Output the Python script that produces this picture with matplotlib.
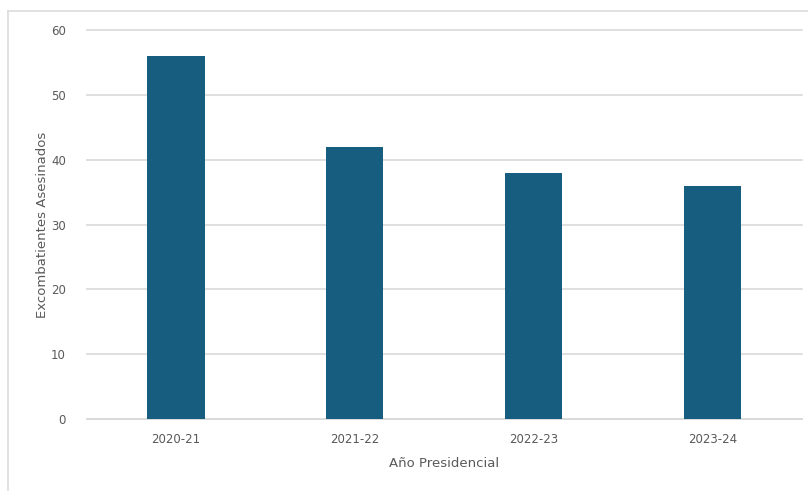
import matplotlib
matplotlib.use("Agg")
import matplotlib.pyplot as plt
from matplotlib.lines import Line2D

categories = ["2020-21", "2021-22", "2022-23", "2023-24"]
values = [56, 42, 38, 36]
yticks = [0, 10, 20, 30, 40, 50, 60]

plt.rcParams['font.family'] = ['DejaVu Sans']
W, H = 808, 491
fig = plt.figure(figsize=(W/100, H/100), dpi=100)
ax_left, ax_right = 86.6, 802
ax = fig.add_axes([ax_left/W, 1-419/H, (ax_right-ax_left)/W, (419-30)/H])

bar_color = "#175d80"
text_color = "#595959"
grid_color = "#d9d9d9"

x = range(len(categories))
ax.bar(x, values, width=0.32, color=bar_color, zorder=3)
ax.set_xlim(-0.5, len(categories)-0.5)
ax.set_ylim(0, 60)
ax.set_yticks(yticks)
ax.set_xticks(list(x))
ax.set_xticklabels(categories)
ax.yaxis.grid(True, color=grid_color, linewidth=1.2, zorder=0)
for gl in ax.get_ygridlines():
    gl.set_clip_on(False)
for s in ["top", "right", "left"]:
    ax.spines[s].set_visible(False)
ax.spines["bottom"].set_color(grid_color)
ax.spines["bottom"].set_linewidth(1.2)
ax.tick_params(axis="both", length=0, colors=text_color, labelsize=8.5)
ax.tick_params(axis="y", pad=15)
ax.tick_params(axis="x", pad=10)
ax.set_xlabel("Año Presidencial", color=text_color, fontsize=9.5, labelpad=8)
ax.set_ylabel("Excombatientes Asesinados", color=text_color, fontsize=9.5)
ax.yaxis.set_label_coords((49-ax_left)/(ax_right-ax_left), 0.5)

# outer frame (top and left edges visible)
fig.add_artist(Line2D([8/W, 1], [1-11/H, 1-11/H], transform=fig.transFigure, color="#dcdcdc", linewidth=1.2))
fig.add_artist(Line2D([8/W, 8/W], [0, 1-11/H], transform=fig.transFigure, color="#dcdcdc", linewidth=1.2))

fig.savefig("out.png", dpi=100)
